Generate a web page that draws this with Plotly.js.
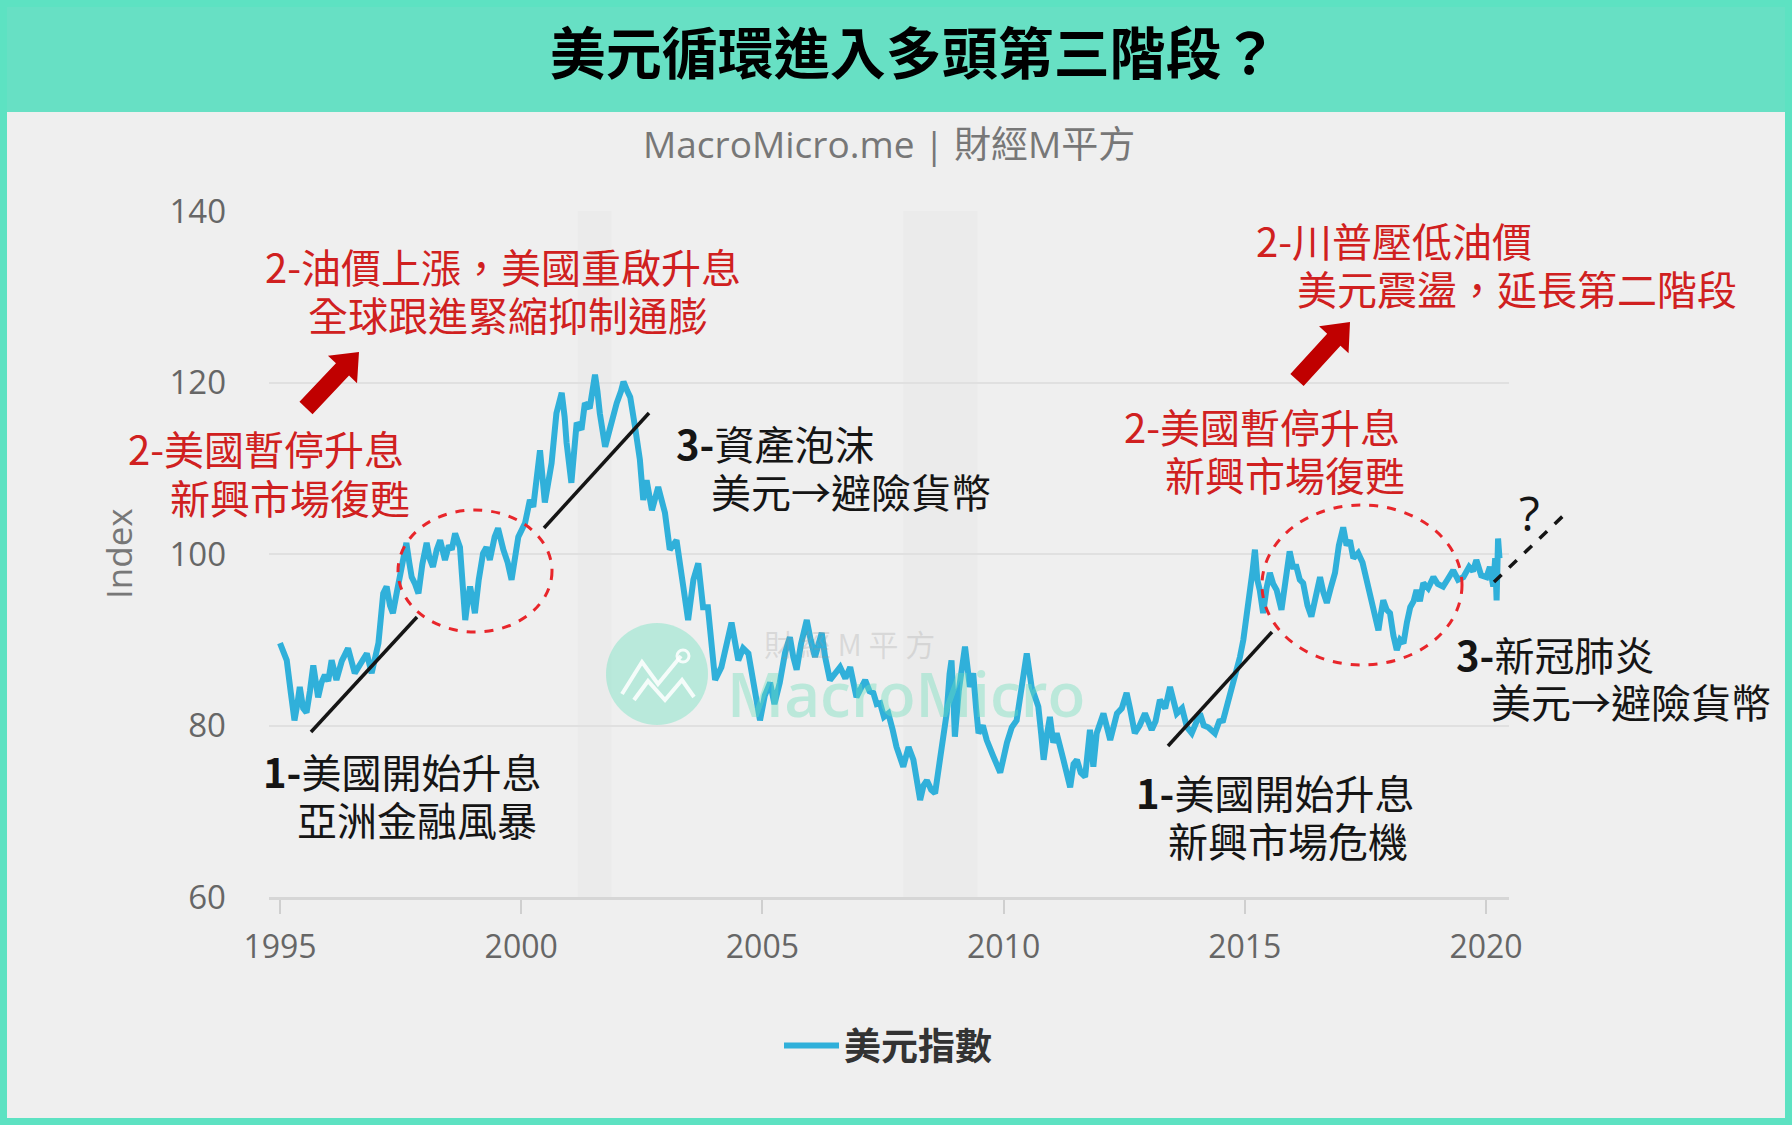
<!DOCTYPE html>
<html>
<head>
<meta charset="utf-8">
<script src="https://cdn.plot.ly/plotly-3.0.1.min.js"></script>
<style>
html,body{margin:0;padding:0;background:#efefef;}
#chart{width:1792px;height:1125px;}
</style>
</head>
<body>
<div id="chart"></div>
<script>
// ---- data ----
const years = [
1995.00,1995.08,1995.14,1995.22,1995.30,1995.36,1995.41,1995.48,1995.55,1995.62,1995.69,1995.79,1995.86,1995.93,
1996.00,1996.07,1996.17,1996.28,1996.41,1996.55,1996.68,1996.80,1996.90,
1997.04,1997.14,1997.21,1997.28,1997.34,1997.42,1997.49,1997.55,1997.62,1997.68,1997.73,1997.80,1997.87,1997.95,
1998.04,1998.10,1998.17,1998.25,1998.32,1998.42,1998.50,1998.56,1998.63,1998.73,1998.79,1998.84,1998.89,1998.94,
1999.00,1999.04,1999.12,1999.21,1999.28,1999.35,1999.45,1999.52,1999.63,1999.72,1999.80,1999.87,1999.94,
2000.08,2000.18,2000.25,2000.32,2000.39,2000.49,2000.56,2000.63,2000.73,2000.84,2000.90,2000.94,
2001.04,2001.10,2001.15,2001.25,2001.32,2001.42,2001.53,2001.58,2001.63,2001.74,2001.84,2001.92,2001.98,
2002.07,2002.12,2002.20,2002.26,2002.36,2002.46,2002.53,2002.60,2002.71,2002.78,2002.84,2002.98,
2003.08,2003.22,2003.30,2003.36,2003.46,2003.57,2003.67,2003.77,2003.87,2003.95,
2004.02,2004.15,2004.25,2004.36,2004.50,2004.60,2004.71,2004.82,2004.95,
2005.05,2005.16,2005.25,2005.36,2005.47,2005.57,2005.64,2005.71,2005.80,2005.92,
2006.00,2006.09,2006.23,2006.30,2006.40,2006.50,2006.61,2006.72,2006.82,2006.95,
2007.05,2007.13,2007.22,2007.30,2007.37,2007.44,2007.52,2007.61,2007.70,2007.78,2007.92,
2008.03,2008.13,2008.20,2008.27,2008.34,2008.41,2008.50,2008.58,2008.68,2008.75,2008.82,2008.88,2008.92,2008.96,2008.99,
2009.07,2009.13,2009.20,2009.30,2009.37,2009.43,2009.48,2009.57,2009.65,2009.78,2009.93,
2010.07,2010.17,2010.27,2010.38,2010.48,2010.58,2010.65,2010.72,2010.78,2010.83,2010.90,2010.96,
2011.03,2011.10,2011.24,2011.38,2011.45,2011.52,2011.60,2011.69,2011.79,2011.86,2011.93,
2012.00,2012.07,2012.21,2012.35,2012.45,2012.55,2012.62,2012.72,2012.82,2012.93,
2013.07,2013.15,2013.24,2013.35,2013.45,2013.52,2013.59,2013.70,2013.80,2013.90,
2014.07,2014.15,2014.24,2014.38,2014.47,2014.55,2014.62,2014.69,2014.76,2014.83,2014.90,2014.97,
2015.05,2015.10,2015.16,2015.21,2015.26,2015.31,2015.38,2015.45,2015.52,2015.59,2015.66,2015.76,2015.84,2015.93,
2016.00,2016.07,2016.14,2016.21,2016.30,2016.38,2016.47,2016.56,2016.63,2016.70,2016.78,2016.87,2016.95,
2017.04,2017.11,2017.18,2017.25,2017.35,2017.44,2017.52,2017.60,2017.66,2017.72,2017.77,2017.82,2017.87,2017.94,
2018.01,2018.08,2018.15,2018.22,2018.29,2018.36,2018.43,2018.50,2018.56,2018.63,2018.70,2018.80,2018.91,
2019.00,2019.11,2019.20,2019.32,2019.42,2019.53,2019.65,2019.73,2019.80,2019.90,
2020.01,2020.08,2020.15,2020.19,2020.22,2020.25,2020.28
];
const dxy = [
89.6,88.5,87.6,84.0,80.6,82.5,84.5,82.0,81.5,84.0,87.0,83.3,85.0,85.9,
85.2,87.6,85.3,87.5,89.0,86.1,87.2,88.4,86.1,
89.6,95.4,96.2,94.0,93.1,95.5,97.8,99.5,101.3,99.0,97.3,96.5,95.4,98.8,
101.3,99.5,98.5,100.5,101.6,99.3,101.0,100.5,102.4,100.8,96.5,92.3,94.5,96.2,
94.5,93.1,97.0,100.1,100.8,99.3,102.0,103.0,100.5,99.0,97.0,99.5,102.0,
103.6,106.3,105.5,109.4,112.1,106.0,108.5,110.6,116.4,118.8,116.0,113.0,
108.3,111.5,115.3,114.5,117.6,117.0,120.9,119.0,116.4,112.5,114.8,116.5,117.6,
119.0,120.1,119.0,118.3,114.8,111.0,106.3,108.6,105.1,107.0,107.8,104.8,
100.5,101.6,98.0,96.2,92.3,97.0,98.9,93.8,93.8,90.0,
85.3,86.8,89.5,92.0,87.6,89.0,88.4,85.0,80.6,
83.5,85.0,82.5,85.0,88.5,90.3,88.0,86.5,89.5,92.3,
90.0,88.0,90.8,88.0,85.3,86.0,86.8,85.5,86.8,83.3,
84.5,85.3,84.0,83.8,82.5,82.6,81.0,81.4,79.5,77.5,75.2,
77.5,76.0,73.5,71.3,73.0,73.6,72.5,72.1,76.0,79.0,81.4,86.0,87.6,83.0,78.7,
84.0,86.8,89.2,84.5,86.1,82.0,79.1,80.0,78.3,76.5,74.5,
78.0,79.8,80.6,84.5,88.4,84.5,83.5,82.2,79.0,76.0,79.0,81.0,
78.0,79.1,76.0,72.8,75.5,76.0,74.5,74.0,79.5,75.2,79.1,
80.5,81.4,78.3,81.4,82.0,83.8,82.0,79.1,80.0,81.4,
79.5,80.5,83.0,82.0,84.5,82.5,81.4,82.0,79.8,79.1,
81.4,80.0,79.8,79.1,80.5,80.6,82.0,83.8,85.0,86.1,88.0,90.0,
93.0,95.4,98.0,100.5,97.0,95.8,93.1,96.0,97.8,96.5,95.8,93.5,97.0,100.3,
98.5,98.5,97.0,96.6,94.0,92.7,95.0,97.3,95.5,94.3,96.0,97.8,101.0,
103.1,101.0,101.6,99.5,100.1,99.0,97.0,95.0,93.5,92.5,91.1,93.0,94.6,93.5,
93.1,90.5,88.8,90.0,89.6,92.0,93.8,94.5,95.8,94.5,96.6,96.0,97.3,
96.5,96.2,97.0,98.1,97.0,97.3,98.5,98.0,99.3,97.5,
97.3,98.5,96.2,99.5,94.6,101.8,99.5
];
const recessionStart = [2001.17, 2007.92];
const recessionEnd   = [2001.87, 2009.46];
const xTicks = [1995, 2000, 2005, 2010, 2015, 2020];
const yTicks = [60, 80, 100, 120, 140];
const seriesName = '美元指數';

// ---- pixel -> paper helpers (layout geometry) ----
const L = 269, R = 1509, T = 211, B = 897;
const px = x => (x - L) / (R - L);
const py = y => (B - y) / (B - T);

function arrowPath(tx, ty, hx, hy, sh, hh, hl) {
  const dx = hx - tx, dy = hy - ty, len = Math.hypot(dx, dy);
  const ux = dx / len, uy = dy / len, nx = -uy, ny = ux;
  const bx = hx - ux * hl, by = hy - uy * hl;
  const pts = [
    [tx + nx * sh, ty + ny * sh], [bx + nx * sh, by + ny * sh], [bx + nx * hh, by + ny * hh],
    [hx, hy], [bx - nx * hh, by - ny * hh], [bx - nx * sh, by - ny * sh], [tx - nx * sh, ty - ny * sh]
  ];
  return 'M' + pts.map(p => px(p[0]).toFixed(5) + ',' + py(p[1]).toFixed(5)).join(' L') + ' Z';
}
function polyPath(pts) {
  return 'M' + pts.map(p => px(p[0]).toFixed(5) + ',' + py(p[1]).toFixed(5)).join(' L');
}
function pline(x0, y0, x1, y1, color, width, dash) {
  return {type: 'line', xref: 'paper', yref: 'paper', x0: px(x0), y0: py(y0), x1: px(x1), y1: py(y1),
          line: {color: color, width: width, dash: dash || 'solid'}, layer: 'above'};
}
function ellipse(x0, y0, x1, y1) {
  return {type: 'circle', xref: 'paper', yref: 'paper', x0: px(x0), y0: py(y1), x1: px(x1), y1: py(y0),
          line: {color: '#e8262b', width: 3, dash: 'dash'}, fillcolor: 'rgba(0,0,0,0)', layer: 'above'};
}

const RED = '#d02020', BLK = '#151515';
const CJK = '"Noto Sans CJK TC", "Noto Sans", sans-serif';
function note(text, x, y, color, opts) {
  return Object.assign({xref: 'paper', yref: 'paper', x: px(x), y: py(y), xanchor: 'left', yanchor: 'middle',
    showarrow: false, text: text, font: {family: CJK, size: 40, color: color}}, opts || {});
}

const shapes = [];
// teal header band and frame
shapes.push({type: 'rect', xref: 'paper', yref: 'paper', x0: px(0), x1: px(1792), y0: py(112), y1: py(0),
  fillcolor: '#67e0c4', line: {width: 0}, layer: 'above'});
shapes.push({type: 'rect', xref: 'paper', yref: 'paper', x0: px(3.5), x1: px(1788.5), y0: py(1121.5), y1: py(3.5),
  fillcolor: 'rgba(0,0,0,0)', line: {color: '#5de2c2', width: 7}, layer: 'above'});
// recession shading
for (let i = 0; i < recessionStart.length; i++) {
  shapes.push({type: 'rect', xref: 'x', yref: 'paper', x0: recessionStart[i], x1: recessionEnd[i], y0: 0, y1: 1,
    fillcolor: '#ebebeb', line: {width: 0}, layer: 'below'});
}
// watermark logo
shapes.push({type: 'circle', xref: 'paper', yref: 'paper', x0: px(606), x1: px(708), y0: py(725), y1: py(623),
  fillcolor: 'rgba(120,226,196,0.45)', line: {width: 0}, layer: 'below'});
shapes.push({type: 'path', xref: 'paper', yref: 'paper', path: polyPath([[622,694],[642,662],[658,684],[681,656]]),
  line: {color: 'rgba(255,255,255,0.85)', width: 4}, layer: 'below'});
shapes.push({type: 'path', xref: 'paper', yref: 'paper', path: polyPath([[634,700],[648,681],[665,700],[682,680],[694,697]]),
  line: {color: 'rgba(255,255,255,0.85)', width: 4}, layer: 'below'});
shapes.push({type: 'circle', xref: 'paper', yref: 'paper', x0: px(677), x1: px(689), y0: py(662), y1: py(650),
  fillcolor: 'rgba(0,0,0,0)', line: {color: 'rgba(255,255,255,0.85)', width: 3}, layer: 'below'});
// trend lines
shapes.push(pline(311, 732, 417, 617, BLK, 3.5));
shapes.push(pline(544, 528, 649, 413, BLK, 3.5));
shapes.push(pline(1168, 746, 1272, 632, BLK, 3.5));
shapes.push(pline(1494, 582, 1565, 514, BLK, 3.5, 'dash'));
// dashed ellipses
shapes.push(ellipse(398, 510, 552, 632));
shapes.push(ellipse(1262, 505, 1462, 665));
// red arrows
shapes.push({type: 'path', xref: 'paper', yref: 'paper', path: arrowPath(306, 408, 359, 352, 9, 20, 24),
  fillcolor: '#c00000', line: {width: 0}, layer: 'above'});
shapes.push({type: 'path', xref: 'paper', yref: 'paper', path: arrowPath(1297, 380, 1350, 322, 9, 20, 24),
  fillcolor: '#c00000', line: {width: 0}, layer: 'above'});

const annotations = [
  {xref: 'paper', yref: 'paper', x: px(889), y: py(143), xanchor: 'center', yanchor: 'middle', showarrow: false,
   text: 'MacroMicro.me | 財經M平方', font: {family: '"Open Sans", ' + CJK, size: 37, color: '#777'}},
  {xref: 'paper', yref: 'paper', x: px(118), y: py(554), xanchor: 'center', yanchor: 'middle', showarrow: false,
   textangle: -90, text: 'Index', font: {family: '"Open Sans", sans-serif', size: 35, color: '#777'}},
  // watermark text
  {xref: 'paper', yref: 'paper', x: px(906), y: py(693), xanchor: 'center', yanchor: 'middle', showarrow: false,
   text: 'MacroMicro', font: {family: '"Open Sans", sans-serif', size: 62, color: 'rgba(110,222,188,0.4)', weight: 600}},
  {xref: 'paper', yref: 'paper', x: px(849), y: py(643), xanchor: 'center', yanchor: 'middle', showarrow: false,
   text: '財 經 M 平 方', font: {family: CJK, size: 30, color: 'rgba(150,150,150,0.25)'}},
  // notes
  note('2-油價上漲，美國重啟升息', 263, 266, RED),
  note('全球跟進緊縮抑制通膨', 306, 314, RED),
  note('2-美國暫停升息', 126, 448, RED),
  note('新興市場復甦', 168, 497, RED),
  note('<b>3-</b>資產泡沫', 674, 443, BLK),
  note('美元→避險貨幣', 709, 491, BLK),
  note('<b>1-</b>美國開始升息', 261, 771, BLK),
  note('亞洲金融風暴', 295, 819, BLK),
  note('2-美國暫停升息', 1122, 426, RED),
  note('新興市場復甦', 1163, 474, RED),
  note('2-川普壓低油價', 1254, 240, RED),
  note('美元震盪，延長第二階段', 1295, 288, RED),
  note('<b>3-</b>新冠肺炎', 1454, 654, BLK),
  note('美元→避險貨幣', 1489, 701, BLK),
  note('<b>1-</b>美國開始升息', 1134, 792, BLK),
  note('新興市場危機', 1166, 840, BLK),
  note('?', 1529, 512, BLK, {xanchor: 'center', font: {family: '"Open Sans", sans-serif', size: 48, color: BLK}})
];

const trace = {
  x: years, y: dxy, type: 'scatter', mode: 'lines', name: seriesName,
  line: {color: '#30b0da', width: 6}, hoverinfo: 'skip'
};

const layout = {
  width: 1792, height: 1125,
  margin: {l: L, r: 1792 - R, t: T, b: 1125 - B, pad: 0},
  paper_bgcolor: '#efefef', plot_bgcolor: '#efefef',
  title: {text: '<b>美元循環進入多頭第三階段？</b>', font: {family: CJK, size: 56, color: '#000'},
          x: 0.52, xanchor: 'center', xref: 'paper', y: 1 - 54 / 1125, yanchor: 'middle', yref: 'container'},
  showlegend: true,
  legend: {orientation: 'h', x: px(888), xanchor: 'center', y: py(1046), yanchor: 'middle', itemwidth: 55,
           font: {family: CJK, size: 37, color: '#333', weight: 700}, bgcolor: 'rgba(0,0,0,0)'},
  xaxis: {range: [1995 - (280 - L) / 48.24, 1995 + (R - 280) / 48.24], tickvals: xTicks, ticktext: xTicks.map(String),
          showgrid: false, zeroline: false, showline: true, linecolor: '#d6d6d6', linewidth: 3,
          ticks: 'outside', ticklen: 14, tickwidth: 2, tickcolor: '#cfcfcf', ticklabelstandoff: 6,
          tickfont: {family: '"Open Sans", sans-serif', size: 32, color: '#666'}, fixedrange: true},
  yaxis: {range: [60, 140], tickvals: yTicks, ticktext: yTicks.map(String), showgrid: true,
          gridcolor: '#e0e0e0', gridwidth: 2, zeroline: false, showline: false, ticks: '',
          ticklabelstandoff: 42,
          tickfont: {family: '"Open Sans", sans-serif', size: 33, color: '#666'}, fixedrange: true},
  shapes: shapes,
  annotations: annotations
};

Plotly.newPlot('chart', [trace], layout, {displayModeBar: false, staticPlot: true});
</script>
</body>
</html>
